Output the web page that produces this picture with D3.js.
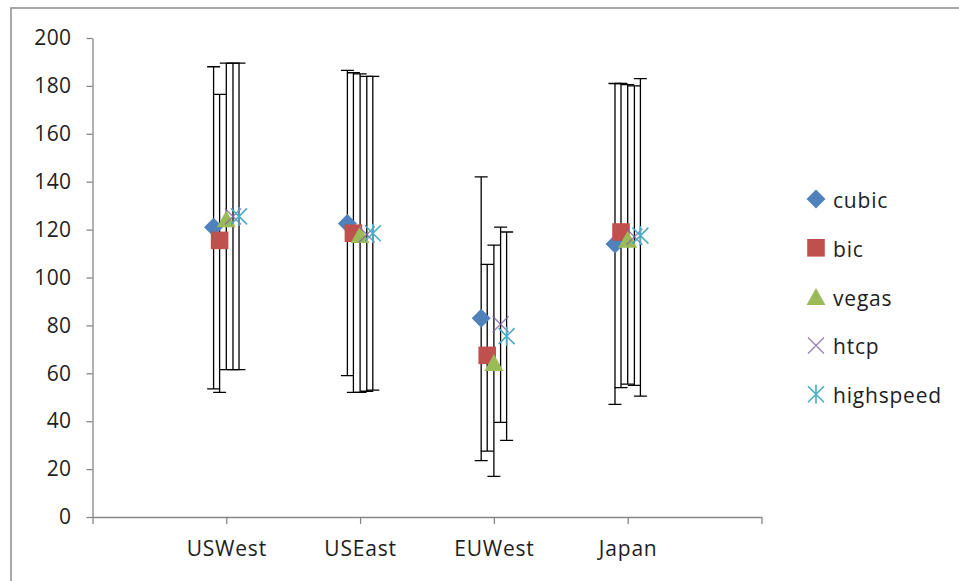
<!DOCTYPE html>
<html>
<head>
<meta charset="utf-8">
<script src="https://cdn.jsdelivr.net/npm/d3@7"></script>
<style>
  html, body { margin: 0; padding: 0; background: #fff; }
  svg { display: block; }
  text { font-family: "Open Sans", "Noto Sans", sans-serif; fill: #1e1e1e; }
</style>
</head>
<body>
<svg id="chart" width="959" height="581"></svg>
<script>
// ---- data ----
const categories = ["USWest", "USEast", "EUWest", "Japan"];
const seriesNames = ["cubic", "bic", "vegas", "htcp", "highspeed"];
const seriesColors = ["#4F81BD", "#C0504D", "#9BBB59", "#8064A2", "#4BACC6"];
const seriesShapes = ["diamond", "square", "triangle", "x", "star"];
const seriesOffsets = [-0.095, -0.05, 0, 0.05, 0.095];

const cubicMean = [121, 122.5, 83, 114];
const bicMean = [115.5, 118.5, 67.5, 119];
const vegasMean = [124.5, 118, 64.5, 116];
const htcpMean = [125.5, 118, 80.5, 117];
const highspeedMean = [125.5, 118.5, 75.5, 117.5];

const cubicHigh = [188, 186.5, 142, 181];
const bicHigh = [176.5, 185.5, 105.5, 181];
const vegasHigh = [189.5, 185, 113.5, 180.5];
const htcpHigh = [189.5, 184, 121, 180];
const highspeedHigh = [189.5, 184, 119, 183];

const cubicLow = [53.5, 59, 23.5, 47];
const bicLow = [52, 52, 27.5, 54];
const vegasLow = [61.5, 52, 17, 55.5];
const htcpLow = [61.5, 52.5, 39.5, 55];
const highspeedLow = [61.5, 53, 32, 50.5];

const yTicks = [0, 20, 40, 60, 80, 100, 120, 140, 160, 180, 200];

const means = [cubicMean, bicMean, vegasMean, htcpMean, highspeedMean];
const highs = [cubicHigh, bicHigh, vegasHigh, htcpHigh, highspeedHigh];
const lows = [cubicLow, bicLow, vegasLow, htcpLow, highspeedLow];

const points = [];
seriesNames.forEach((s, si) => {
  categories.forEach((c, ci) => {
    points.push({ si, ci, x: ci + 1 + seriesOffsets[si], y: means[si][ci], hi: highs[si][ci], lo: lows[si][ci] });
  });
});

// ---- layout ----
const svg = d3.select("#chart");
const x = d3.scaleLinear().domain([0, 5]).range([92.5, 761.5]);
const y = d3.scaleLinear().domain([0, 200]).range([517, 38]);
const axisColor = "#868686";
const fontSize = 21;

// chart border
svg.append("rect").attr("x", 11).attr("y", 8).attr("width", 1000).attr("height", 700)
  .attr("fill", "none").attr("stroke", "#8a8a8a").attr("stroke-width", 1.5);

// y axis
const yAxis = svg.append("g").attr("transform", `translate(${x(0)},0)`)
  .call(d3.axisLeft(y).tickValues(yTicks).tickSize(6).tickSizeOuter(0).tickPadding(15));
yAxis.select(".domain").attr("stroke", axisColor).attr("stroke-width", 1.3);
yAxis.selectAll(".tick line").attr("stroke", axisColor).attr("stroke-width", 1.3);
yAxis.selectAll(".tick text").style("font-size", fontSize + "px").attr("fill", "#1e1e1e")
  .style("font-family", '"Open Sans", sans-serif').style("letter-spacing", "0.4px");

// x axis
const xAxis = svg.append("g").attr("transform", `translate(0,${y(0)})`)
  .call(d3.axisBottom(x).tickValues([0, 1, 2, 3, 4, 5]).tickSize(7).tickSizeOuter(0)
    .tickFormat(d => (d >= 1 && d <= 4) ? categories[d - 1] : "").tickPadding(17));
xAxis.select(".domain").attr("stroke", axisColor).attr("stroke-width", 1.3);
xAxis.selectAll(".tick line").attr("stroke", axisColor).attr("stroke-width", 1.3);
xAxis.selectAll(".tick text").style("font-size", fontSize + "px").attr("fill", "#1e1e1e")
  .style("font-family", '"Open Sans", sans-serif').style("letter-spacing", "0.8px");

// marker path generator
function markerPath(shape, cx, cy) {
  const p = d3.path();
  if (shape === "diamond") {
    const r = 9.5;
    p.moveTo(cx, cy - r); p.lineTo(cx + r, cy); p.lineTo(cx, cy + r); p.lineTo(cx - r, cy); p.closePath();
  } else if (shape === "square") {
    const r = 8.8;
    p.rect(cx - r, cy - r, 2 * r, 2 * r);
  } else if (shape === "triangle") {
    const w = 9.5, h = 8.5;
    p.moveTo(cx, cy - h); p.lineTo(cx + w, cy + h); p.lineTo(cx - w, cy + h); p.closePath();
  } else if (shape === "x") {
    const r = 8;
    p.moveTo(cx - r, cy - r); p.lineTo(cx + r, cy + r);
    p.moveTo(cx + r, cy - r); p.lineTo(cx - r, cy + r);
  } else if (shape === "star") {
    const r = 8;
    p.moveTo(cx - r, cy - r); p.lineTo(cx + r, cy + r);
    p.moveTo(cx + r, cy - r); p.lineTo(cx - r, cy + r);
    p.moveTo(cx, cy - r - 1.5); p.lineTo(cx, cy + r + 1.5);
  }
  return p.toString();
}
function styleMarker(sel, getSi) {
  sel.attr("fill", d => {
      const s = seriesShapes[getSi(d)];
      return (s === "x" || s === "star") ? "none" : seriesColors[getSi(d)];
    })
    .attr("stroke", d => {
      const s = seriesShapes[getSi(d)];
      return (s === "x" || s === "star") ? seriesColors[getSi(d)] : "none";
    })
    .attr("stroke-width", d => seriesShapes[getSi(d)] === "x" ? 1.4 : 1.6)
    .attr("stroke-opacity", d => seriesShapes[getSi(d)] === "x" ? 0.8 : 1);
}

// error bars
const cap = 6.5;
const eb = svg.append("g").attr("stroke", "#000").attr("stroke-width", 1.3).attr("fill", "none");
eb.selectAll("path").data(points).join("path")
  .attr("d", d => {
    const px = x(d.x), p = d3.path();
    p.moveTo(px, y(d.hi)); p.lineTo(px, y(d.lo));
    p.moveTo(px - cap, y(d.hi)); p.lineTo(px + cap, y(d.hi));
    p.moveTo(px - cap, y(d.lo)); p.lineTo(px + cap, y(d.lo));
    return p.toString();
  });

// markers
const mk = svg.append("g");
mk.selectAll("path").data(points).join("path")
  .attr("d", d => markerPath(seriesShapes[d.si], x(d.x), y(d.y)))
  .call(styleMarker, d => d.si);

// legend
const legendX = 816, legendY0 = 199, legendStep = 48.8;
const lg = svg.append("g");
const items = lg.selectAll("g").data(seriesNames).join("g")
  .attr("transform", (d, i) => `translate(${legendX},${legendY0 + i * legendStep})`);
items.append("path")
  .attr("d", (d, i) => markerPath(seriesShapes[i], 0, 0))
  .call(styleMarker, (d) => seriesNames.indexOf(d));
items.append("text").attr("x", 17).attr("y", 1).attr("dominant-baseline", "central")
  .style("font-size", fontSize + "px").style("letter-spacing", "0.8px").text(d => d);
</script>
</body>
</html>
